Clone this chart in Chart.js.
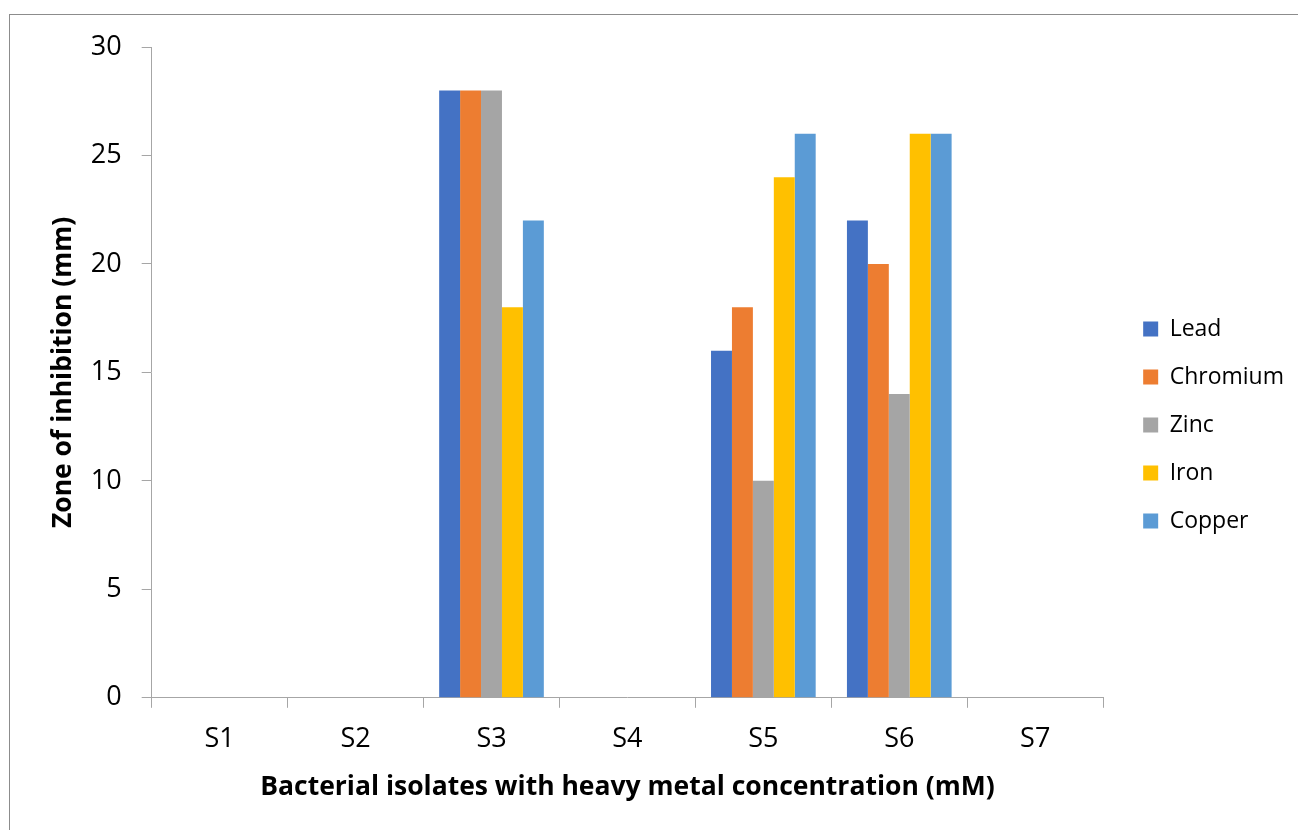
<!DOCTYPE html>
<html>
<head>
<meta charset="utf-8">
<script src="https://cdn.jsdelivr.net/npm/chart.js@4.4.1/dist/chart.umd.min.js"></script>
<style>
  html, body { margin: 0; padding: 0; background: #fff; }
  #wrap { position: relative; width: 1298px; height: 830px; overflow: hidden; }
  #frame { position: absolute; left: 9px; top: 14px; width: 1400px; height: 900px; border-left: 1px solid #8c8c8c; border-top: 1px solid #8c8c8c; }
  canvas { position: absolute; left: 0; top: 0; }
</style>
</head>
<body>
<div id="wrap">
  <div id="frame"></div>
  <canvas id="c" width="1298" height="830"></canvas>
</div>
<script>
const categories = ["S1", "S2", "S3", "S4", "S5", "S6", "S7"];
const lead     = [0, 0, 28, 0, 16, 22, 0];
const chromium = [0, 0, 28, 0, 18, 20, 0];
const zinc     = [0, 0, 28, 0, 10, 14, 0];
const iron     = [0, 0, 18, 0, 24, 26, 0];
const copper   = [0, 0, 22, 0, 26, 26, 0];
const seriesNames = ["Lead", "Chromium", "Zinc", "Iron", "Copper"];
const seriesColors = ["#4472C4", "#ED7D31", "#A5A5A5", "#FFC000", "#5B9BD5"];
const seriesValues = [lead, chromium, zinc, iron, copper];

const FONT = "'Open Sans', 'Liberation Sans', sans-serif";

const legendOffset = {
  id: 'legendOffset',
  afterLayout(chart) {
    if (chart.legend) {
      chart.legend.left += 15;
      chart.legend.right += 15;
    }
  }
};

new Chart(document.getElementById('c'), {
  type: 'bar',
  data: {
    labels: categories,
    datasets: seriesNames.map((n, i) => ({
      label: n,
      data: seriesValues[i],
      backgroundColor: seriesColors[i],
      borderWidth: 0,
      categoryPercentage: 0.77,
      barPercentage: 1.0
    }))
  },
  plugins: [legendOffset],
  options: {
    responsive: false,
    animation: false,
    devicePixelRatio: 1,
    layout: { padding: { left: 29, right: 19, top: 47, bottom: 27 } },
    plugins: {
      tooltip: { enabled: false },
      legend: {
        position: 'right',
        align: 'center',
        labels: {
          font: { family: FONT, size: 23 },
          color: '#000',
          boxWidth: 15,
          boxHeight: 15,
          padding: 25
        }
      }
    },
    scales: {
      x: {
        grid: { display: true, drawOnChartArea: false, drawTicks: true, tickLength: 10, color: '#A6A6A6', offset: true },
        border: { display: true, color: '#A6A6A6', width: 1 },
        ticks: { font: { family: FONT, size: 27 }, color: '#000', padding: 15, maxRotation: 0 },
        title: { display: true, text: 'Bacterial isolates with heavy metal concentration (mM)', font: { family: FONT, size: 26.5, weight: 'bold' }, color: '#000', padding: { top: 1, bottom: 0 } }
      },
      y: {
        min: 0, max: 30,
        grid: { display: true, drawOnChartArea: false, drawTicks: true, tickLength: 10, color: '#A6A6A6' },
        border: { display: true, color: '#A6A6A6', width: 1 },
        ticks: { stepSize: 5, font: { family: FONT, size: 27 }, color: '#000', padding: 20 },
        title: { display: true, text: 'Zone of inhibition (mm)', font: { family: FONT, size: 26.5, weight: 'bold' }, color: '#000', padding: { top: 19, bottom: -9 } }
      }
    }
  }
});
</script>
</body>
</html>
